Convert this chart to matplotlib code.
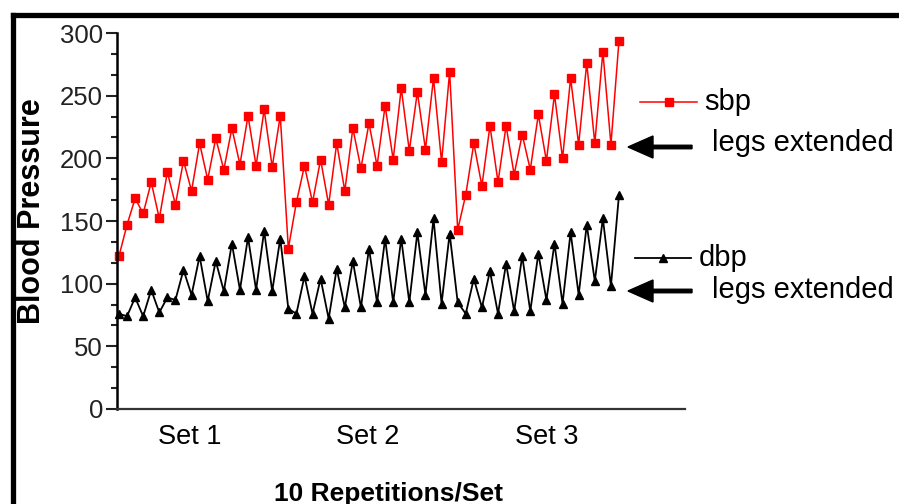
import numpy as np
import matplotlib.pyplot as plt
from matplotlib.lines import Line2D

plt.rcParams['font.family'] = ['Liberation Sans', 'DejaVu Sans']

# systolic / diastolic, 3 sets of 10 reps (21 readings per set)
sbp = [122, 147, 168, 156, 181, 152, 189, 163, 198, 174, 212, 183, 216, 191, 224, 195, 234, 194, 239, 193, 234,
       128, 165, 194, 165, 199, 163, 212, 174, 224, 192, 228, 194, 242, 199, 256, 206, 253, 207, 264, 197, 269,
       143, 171, 212, 178, 226, 181, 226, 187, 219, 191, 235, 198, 251, 200, 264, 211, 276, 212, 285, 211, 294]
dbp = [76, 74, 89, 74, 95, 77, 89, 87, 111, 91, 122, 86, 118, 94, 132, 95, 137, 95, 142, 94, 136,
       80, 76, 106, 76, 104, 72, 112, 81, 118, 81, 128, 85, 136, 85, 136, 85, 141, 91, 152, 84, 140,
       85, 76, 104, 81, 110, 76, 116, 78, 122, 78, 124, 87, 132, 84, 141, 91, 147, 102, 152, 98, 171]
set_labels = ["Set 1", "Set 2", "Set 3"]
set_pos = [8.8, 30.9, 53.0]

x = np.arange(len(sbp))

fig = plt.figure(figsize=(8.99, 5.04), dpi=100)
ax = fig.add_axes([0.1301, 0.1885, 0.632, 0.746])

ax.plot(x, sbp, color='red', lw=1.1, marker='s', ms=6, clip_on=False)
ax.plot(x, dbp, color='black', lw=1.3, marker='^', ms=5.5, clip_on=False)

ax.set_xlim(-0.25, 70.2)
ax.set_ylim(0, 300)
ax.set_yticks(range(0, 301, 50))
ax.set_yticks(np.arange(0, 300, 50 / 3), minor=True)
ax.tick_params(axis='y', which='major', length=8, width=1.5, labelsize=18.5, pad=2, colors='#222222')
ax.tick_params(axis='y', which='minor', length=4.5, width=1.5, colors='#222222')
ax.set_xticks(set_pos)
ax.set_xticklabels(set_labels)
ax.tick_params(axis='x', length=0, labelsize=19.5, pad=11)

for s in ['top', 'right']:
    ax.spines[s].set_visible(False)
ax.spines['left'].set_linewidth(1.8)
ax.spines['bottom'].set_linewidth(1.6)
ax.spines['bottom'].set_color('#333333')

# legend entries drawn by hand
W, H = 899, 504
def fx(px): return px / W
def fy(py): return 1 - py / H

fig.add_artist(Line2D([fx(640), fx(697)], [fy(102), fy(102)], color='red', lw=1.1))
fig.add_artist(Line2D([fx(669)], [fy(102)], color='red', marker='s', ms=6))
fig.text(fx(704), fy(102), "sbp", fontsize=21, va='center')
fig.add_artist(Line2D([fx(635), fx(691)], [fy(258), fy(258)], color='black', lw=1.3))
fig.add_artist(Line2D([fx(663)], [fy(258)], color='black', marker='^', ms=5.5))
fig.text(fx(699), fy(258), "dbp", fontsize=21, va='center')

for yy, ty in [(147, 143), (291, 290)]:
    fig.text(fx(712), fy(ty), "legs extended", fontsize=21, va='center')
    fig.patches.append(plt.matplotlib.patches.FancyArrow(
        fx(692), fy(yy), fx(628) - fx(692), 0, width=3.5 / H, head_width=22 / H,
        head_length=25 / W, length_includes_head=True, color='black',
        transform=fig.transFigure, figure=fig))

fig.text(fx(32), fy(211), "Blood Pressure", fontsize=22, fontweight='bold',
         rotation=90, ha='center', va='center')
fig.text(fx(388), fy(482), "10 Repetitions/Set", fontsize=19, fontweight='bold',
         ha='center', va='top')

# outer frame (top and left edges)
fig.add_artist(Line2D([fx(12.5), 1], [fy(15), fy(15)], color='black', lw=3.8))
fig.add_artist(Line2D([fx(12.5), fx(12.5)], [fy(15), 0], color='black', lw=3.8))

fig.savefig('out.png', dpi=100)
